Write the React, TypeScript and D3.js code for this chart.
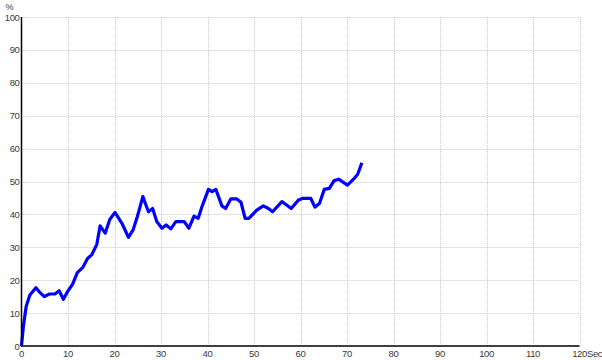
import * as d3 from "d3";
import { useEffect, useRef } from "react";

// seconds
const times = [
  0, 0.4, 1, 1.8, 3.1, 4, 4.9, 6, 7.2, 8.1, 9, 9.9, 11, 12, 13.2, 14.2, 15.1, 16.2, 16.9, 18, 19,
  20.1, 21.6, 23, 24, 24.9, 26.1, 27.3, 28.2, 29.1, 30.2, 31.1, 32.1, 33.2, 35, 36, 37.1, 38,
  38.8, 40.2, 41, 41.8, 43.1, 43.9, 45, 46.3, 47.2, 48.1, 48.9, 50.6, 52, 53.1, 54, 56, 58,
  59.6, 60.5, 62.2, 63.1, 64.1, 65.1, 66.2, 67.2, 68.2, 70.1, 71.4, 72.3, 73.2,
];
// percent
const values = [
  0, 5.9, 12, 15.5, 17.7, 16.2, 15, 15.8, 15.8, 16.8, 14.2, 16.5, 18.8, 22.3, 23.9, 26.6, 27.7,
  30.9, 36.5, 34.3, 38.5, 40.6, 37.3, 33, 35.3, 39.3, 45.4, 40.8, 41.8, 37.8, 35.8, 36.8, 35.6,
  37.8, 37.8, 35.8, 39.5, 38.8, 42.3, 47.6, 46.9, 47.6, 42.6, 41.8, 44.7, 44.7, 43.7, 38.8,
  38.8, 41.3, 42.6, 41.8, 40.8, 43.9, 41.8, 44.4, 44.9, 44.9, 42.2, 43.4, 47.6, 47.9, 50.2,
  50.7, 48.9, 50.7, 52.2, 55.7,
];
const xTicks = [0, 10, 20, 30, 40, 50, 60, 70, 80, 90, 100, 110, 120];
const yTicks = [0, 10, 20, 30, 40, 50, 60, 70, 80, 90, 100];

export default function App() {
  const ref = useRef<SVGSVGElement | null>(null);

  useEffect(() => {
    if (!ref.current) return;
    const svg = d3.select(ref.current);
    svg.selectAll("*").remove();

    const left = 21.5;
    const right = 579.5;
    const top = 17;
    const bottom = 346;

    const x = d3.scaleLinear().domain([0, 120]).range([left, right]);
    const y = d3.scaleLinear().domain([0, 100]).range([bottom, top]);
    const font = "Arial, 'Liberation Sans', sans-serif";
    const textColor = "#3a3a3a";

    const grid = svg.append("g").attr("stroke", "#c8c8c8").attr("stroke-width", 1).attr("stroke-dasharray", "1,1");
    grid
      .selectAll("line.v")
      .data(xTicks.filter((t) => t > 0))
      .join("line")
      .attr("x1", (d) => Math.round(x(d)) + 0.5)
      .attr("x2", (d) => Math.round(x(d)) + 0.5)
      .attr("y1", top)
      .attr("y2", bottom);
    grid
      .selectAll("line.h")
      .data(yTicks.filter((t) => t > 0))
      .join("line")
      .attr("x1", left)
      .attr("x2", right)
      .attr("y1", (d) => Math.round(y(d)) + 0.5)
      .attr("y2", (d) => Math.round(y(d)) + 0.5);

    const pts = times.map((t, i) => ({ t, v: values[i] }));
    const line = d3
      .line<(typeof pts)[0]>()
      .x((d) => x(d.t))
      .y((d) => y(d.v));
    svg
      .append("path")
      .datum(pts)
      .attr("fill", "none")
      .attr("stroke", "#0000ff")
      .attr("stroke-width", 3.2)
      .attr("stroke-linejoin", "round")
      .attr("d", line);

    // axes
    svg.append("line").attr("x1", left).attr("x2", left).attr("y1", top).attr("y2", bottom + 0.5).attr("stroke", "#000").attr("stroke-width", 1.5);
    svg.append("line").attr("x1", left - 0.5).attr("x2", right).attr("y1", bottom).attr("y2", bottom).attr("stroke", "#000").attr("stroke-width", 1.5);

    svg
      .append("g")
      .selectAll("text")
      .data(yTicks)
      .join("text")
      .attr("x", 19.5)
      .attr("y", (d) => y(d) + 3.5)
      .attr("text-anchor", "end")
      .attr("font-family", font)
      .attr("font-size", 9.5)
      .attr("letter-spacing", -0.4)
      .attr("fill", textColor)
      .text((d) => d);

    svg
      .append("g")
      .selectAll("text")
      .data(xTicks)
      .join("text")
      .attr("x", (d) => x(d))
      .attr("y", 357)
      .attr("text-anchor", "middle")
      .attr("font-family", font)
      .attr("font-size", 9.5)
      .attr("letter-spacing", -0.4)
      .attr("fill", textColor)
      .text((d) => d);

    svg.append("text").attr("x", 587).attr("y", 357).attr("font-family", font).attr("font-size", 9.5).attr("letter-spacing", -0.4).attr("fill", textColor).text("Sec");
    svg.append("text").attr("x", 5.5).attr("y", 10).attr("font-family", font).attr("font-size", 9).attr("letter-spacing", -0.4).attr("fill", textColor).text("%");
  }, []);

  return (
    <div style={{ position: "absolute", left: 0, top: 0, width: 602, height: 360, background: "#fff" }}>
      <svg ref={ref} width={602} height={360} style={{ display: "block" }} />
    </div>
  );
}
